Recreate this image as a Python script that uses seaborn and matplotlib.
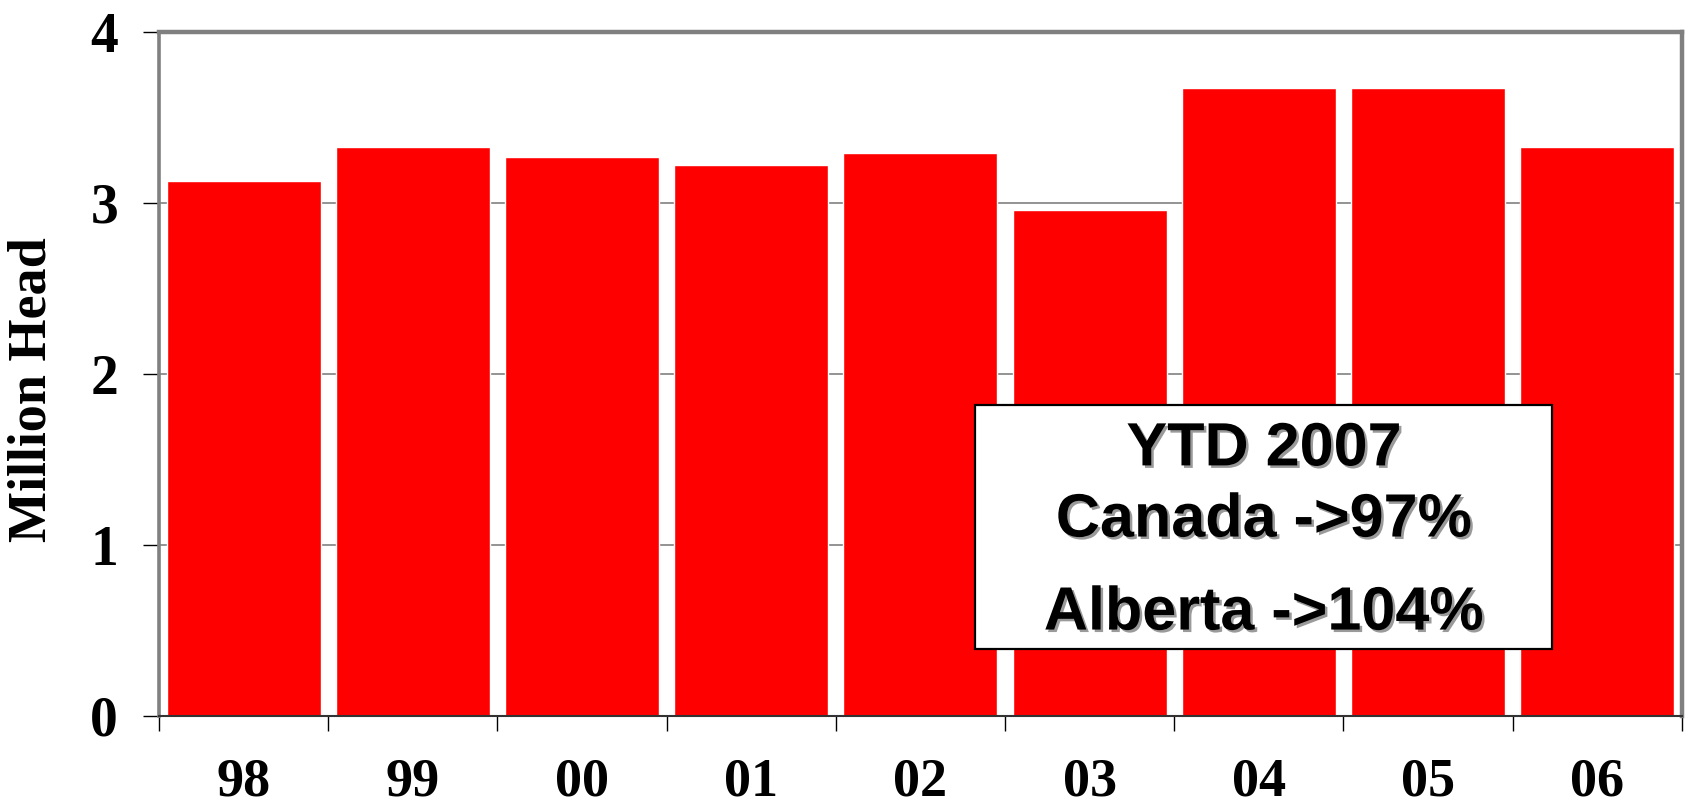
import matplotlib
matplotlib.use("Agg")
import matplotlib.pyplot as plt
import matplotlib.patheffects as pe
from matplotlib.patches import Rectangle
import seaborn as sns
import pandas as pd

# Slaughter volumes by year
years = ["98", "99", "00", "01", "02", "03", "04", "05", "06"]
million_head = [3.13, 3.33, 3.27, 3.22, 3.29, 2.96, 3.67, 3.67, 3.33]
y_ticks = [0, 1, 2, 3, 4]
y_label = "Million Head"
note_lines = ["YTD 2007", "Canada ->97%", "Alberta ->104%"]

sns.set_theme(style="white")
plt.rcParams["font.family"] = ["Liberation Serif", "DejaVu Serif"]
for key in ["text.color", "axes.labelcolor", "xtick.color", "ytick.color"]:
    plt.rcParams[key] = "black"

df = pd.DataFrame({"year": years, "value": million_head})

fig = plt.figure(figsize=(16.88, 8.06), dpi=100)
ax = fig.add_axes([0.0942, 0.1117, 0.9022, 0.8486])

sns.barplot(data=df, x="year", y="value", color="#FF0000", saturation=1,
            width=0.91, ax=ax, zorder=2)

ax.set_xlim(-0.5, len(years) - 0.5)
ax.set_ylim(0, 4)

# horizontal grid behind bars
ax.set_axisbelow(True)
ax.yaxis.grid(True, color="#808080", linewidth=1.2)
ax.xaxis.grid(False)

# y ticks
ax.set_yticks(y_ticks)
ax.set_yticklabels([str(t) for t in y_ticks], fontsize=40, fontweight="bold",
                   family=["Liberation Serif"])
ax.tick_params(axis="y", direction="out", length=11.5, width=1, color="black",
               pad=18, left=True)

# x: boundary ticks (major), labels at centres (minor)
ax.set_xticks([i - 0.5 for i in range(len(years) + 1)])
ax.set_xticklabels([""] * (len(years) + 1))
ax.set_xticks(range(len(years)), minor=True)
ax.set_xticklabels(years, minor=True, fontsize=39, fontweight="bold",
                   family=["Liberation Serif"])
ax.tick_params(axis="x", which="major", direction="out", length=11, width=1,
               color="black", bottom=True)
ax.tick_params(axis="x", which="minor", length=0, pad=30, bottom=True)

ax.set_xlabel("")
ax.set_ylabel("")
fig.text(33 / 1688, 1 - 390 / 806, y_label, rotation=90, ha="center",
         va="center", fontsize=39, fontweight="bold",
         family=["Liberation Serif"], color="black")

# frame
for side in ["top", "right"]:
    ax.spines[side].set_color("#808080")
    ax.spines[side].set_linewidth(3.2)
ax.spines["left"].set_color("#808080")
ax.spines["left"].set_linewidth(2.6)
ax.spines["bottom"].set_color("#333333")
ax.spines["bottom"].set_linewidth(1.5)

# annotation box
box = Rectangle((0.536, 0.098), 0.379, 0.357, transform=ax.transAxes,
                facecolor="white", edgecolor="black", linewidth=1.6, zorder=5)
ax.add_patch(box)

shadow = [pe.SimplePatchShadow(offset=(1.8, -1.8), shadow_rgbFace="#9a9a9a",
                               alpha=1), pe.Normal()]
for text, ypos in zip(note_lines, [0.389, 0.285, 0.149]):
    ax.text(0.7255, ypos, text, transform=ax.transAxes, ha="center",
            va="center", fontsize=44, fontweight="bold",
            family=["Liberation Sans"], color="black", zorder=6,
            path_effects=shadow)

fig.savefig("out.png", dpi=100, facecolor="white")
